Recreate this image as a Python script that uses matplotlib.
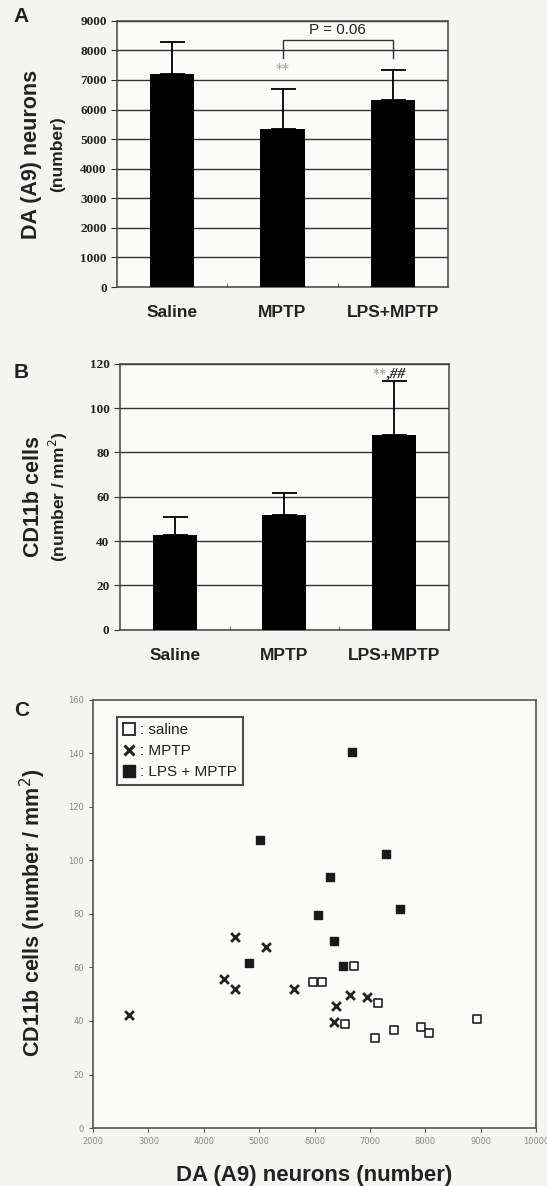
import numpy as np
import matplotlib.pyplot as plt
from matplotlib.lines import Line2D

# bar panels
groups = ["Saline", "MPTP", "LPS+MPTP"]
da_mean = [7200, 5330, 6320]
da_err = [1070, 1370, 1020]
cd_mean = [42.7, 51.8, 87.9]
cd_err = [8.0, 9.8, 24.5]

# scatter panel
saline_x = [5975, 6133, 6718, 6548, 7139, 7095, 7441, 7925, 8070, 8938]
saline_y = [54.7, 54.7, 60.6, 38.8, 46.6, 33.5, 36.6, 37.6, 35.4, 40.7]
mptp_x = [2648, 4560, 5126, 4365, 4560, 5636, 6390, 6353, 6636, 6950]
mptp_y = [42.2, 71.4, 67.7, 55.7, 51.8, 51.8, 45.6, 39.5, 49.7, 48.8]
lps_x = [6673, 5007, 7290, 6277, 7548, 6057, 6359, 4812, 6523]
lps_y = [140.5, 107.6, 102.6, 93.7, 81.7, 79.8, 69.8, 61.7, 60.6]

bg = "#f4f4f2"
sans = "Liberation Sans"
serif = "Liberation Serif"

fig = plt.figure(figsize=(5.47, 11.86), dpi=100, facecolor=bg)


def bar_panel(rect, means, errs, ymax, step):
    ax = fig.add_axes(rect, facecolor="#fbfbfa")
    x = np.arange(len(groups))
    ax.bar(x, means, width=0.4, color="black", zorder=3)
    ax.errorbar(x, means, yerr=[np.zeros(len(errs)), errs], fmt="none",
                ecolor="black", elinewidth=1.3, capsize=9, capthick=1.3, zorder=4)
    ax.set_xlim(-0.5, 2.5)
    ax.set_ylim(0, ymax)
    ax.set_yticks(np.arange(0, ymax + 1, step))
    ax.yaxis.grid(True, color="#333333", linewidth=1.0, zorder=1)
    ax.set_axisbelow(True)
    ax.set_xticks([0.5, 1.5])
    ax.set_xticklabels([])
    ax.tick_params(axis="x", direction="in", length=3, color="#777777")
    ax.tick_params(axis="y", length=4, color="#333333")
    for lab in ax.get_yticklabels():
        lab.set_fontfamily(serif)
        lab.set_fontweight("bold")
        lab.set_fontsize(9.5)
        lab.set_color("#222222")
    for s in ax.spines.values():
        s.set_color("#444444")
        s.set_linewidth(1.1)
    for i, g in enumerate(groups):
        ax.text(i, -0.095, g, transform=ax.get_xaxis_transform(), ha="center",
                va="center", fontsize=12.5, fontweight="bold", family=sans,
                color="#222222")
    return ax


# panel A
axA = bar_panel([0.214, 0.758, 0.605, 0.2245], da_mean, da_err, 9000, 1000)
axA.text(1, 7370, "**", ha="center", va="center", fontsize=10, color="#999999")
axA.plot([1, 1, 2, 2], [7740, 8350, 8350, 7740], color="#333333", lw=1.0)
axA.text(1.5, 8700, "P = 0.06", ha="center", va="center", fontsize=11,
         family=sans, color="#222222")
fig.text(0.057, 0.870, "DA (A9) neurons", rotation=90, ha="center", va="center",
         fontsize=15.5, fontweight="bold", family=sans, color="#222222")
fig.text(0.106, 0.870, "(number)", rotation=90, ha="center", va="center",
         fontsize=12.5, fontweight="bold", family=sans, color="#222222")
fig.text(0.038, 0.986, "A", ha="center", va="center", fontsize=15,
         fontweight="bold", family=sans, color="#222222")

# panel B
axB = bar_panel([0.219, 0.469, 0.602, 0.2243], cd_mean, cd_err, 120, 20)
axB.text(1.93, 115.5, "**", ha="right", va="center", fontsize=10, color="#999999")
axB.text(1.93, 115.5, ",##", ha="left", va="center", fontsize=11,
         fontweight="bold", style="italic", family=serif, color="#222222")
fig.text(0.062, 0.581, "CD11b cells", rotation=90, ha="center", va="center",
         fontsize=15.5, fontweight="bold", family=sans, color="#222222")
fig.text(0.106, 0.581, "(number / mm$^2$)", rotation=90, ha="center", va="center",
         fontsize=12.5, fontweight="bold", family=sans, color="#222222")
fig.text(0.038, 0.686, "B", ha="center", va="center", fontsize=15,
         fontweight="bold", family=sans, color="#222222")

# panel C
axC = fig.add_axes([0.170, 0.0489, 0.810, 0.3609], facecolor="#fbfbfa")
axC.scatter(saline_x, saline_y, marker="s", s=40, facecolors="white",
            edgecolors="#222222", linewidths=1.2, zorder=3)
axC.scatter(mptp_x, mptp_y, marker="x", s=40, color="#222222",
            linewidths=2.0, zorder=3)
axC.scatter(lps_x, lps_y, marker="s", s=32, color="#1a1a1a", zorder=3)
axC.set_xlim(2000, 10000)
axC.set_ylim(0, 160)
axC.set_xticks(np.arange(2000, 10001, 1000))
axC.set_yticks(np.arange(0, 161, 20))
axC.tick_params(labelsize=6, labelcolor="#888888", length=3, color="#555555")
for s in axC.spines.values():
    s.set_color("#555555")
    s.set_linewidth(1.2)
axC.set_xlabel("DA (A9) neurons (number)", fontsize=16, fontweight="bold",
               family=sans, color="#222222", labelpad=14)
fig.text(0.060, 0.23, "CD11b cells (number / mm$^2$)", rotation=90, ha="center",
         va="center", fontsize=15.5, fontweight="bold", family=sans, color="#222222")
fig.text(0.040, 0.401, "C", ha="center", va="center", fontsize=15,
         fontweight="bold", family=sans, color="#222222")

handles = [
    Line2D([], [], marker="s", ls="none", markersize=8, markerfacecolor="white",
           markeredgecolor="#222222", markeredgewidth=1.3),
    Line2D([], [], marker="x", ls="none", markersize=7, color="#222222",
           markeredgewidth=2.2),
    Line2D([], [], marker="s", ls="none", markersize=8, color="#1a1a1a"),
]
leg = axC.legend(handles, [": saline", ": MPTP", ": LPS + MPTP"],
                 loc="upper left", bbox_to_anchor=(0.054, 0.96), fontsize=11,
                 prop={"family": sans, "size": 11}, frameon=True, fancybox=False,
                 handlelength=0.8, handletextpad=0.3, borderpad=0.4,
                 labelspacing=0.45, borderaxespad=0)
leg.get_frame().set_edgecolor("#222222")
leg.get_frame().set_linewidth(1.5)
leg.get_frame().set_facecolor("#fbfbfa")
for t in leg.get_texts():
    t.set_color("#222222")

fig.savefig("out.png", dpi=100, facecolor=bg)
